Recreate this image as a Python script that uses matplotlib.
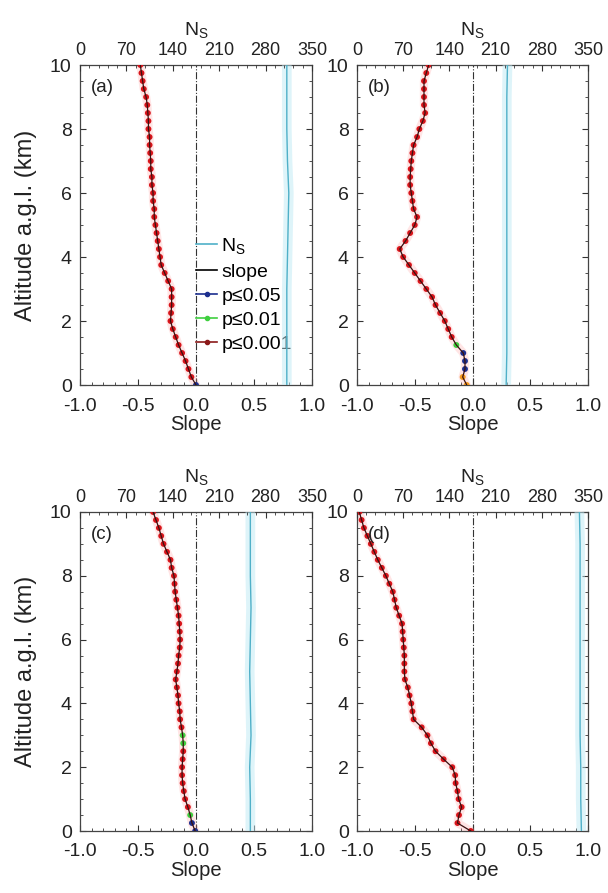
import numpy as np
import matplotlib
matplotlib.use("Agg")
import matplotlib.pyplot as plt
from matplotlib.lines import Line2D
from matplotlib.ticker import MultipleLocator

plt.rcParams['font.family'] = ['Liberation Sans', 'DejaVu Sans']

# ---------------- data ----------------
altitude = [0.0, 0.25, 0.5, 0.75, 1.0, 1.25, 1.5, 1.75, 2.0, 2.25, 2.5, 2.75, 3.0,
            3.25, 3.5, 3.75, 4.0, 4.25, 4.5, 4.75, 5.0, 5.25, 5.5, 5.75, 6.0, 6.25,
            6.5, 6.75, 7.0, 7.25, 7.5, 7.75, 8.0, 8.25, 8.5, 8.75, 9.0, 9.25, 9.5,
            9.75, 10.0]

slope_a = [0.0, -0.04, -0.065, -0.09, -0.12, -0.15, -0.175, -0.2, -0.22, -0.215, -0.21,
           -0.21, -0.21, -0.24, -0.27, -0.30, -0.31, -0.32, -0.33, -0.34, -0.35, -0.36,
           -0.36, -0.37, -0.37, -0.38, -0.38, -0.39, -0.39, -0.395, -0.40, -0.40, -0.41,
           -0.41, -0.415, -0.42, -0.43, -0.45, -0.46, -0.47, -0.48]
slope_b = [-0.05, -0.085, -0.065, -0.065, -0.08, -0.14, -0.18, -0.21, -0.24, -0.28, -0.32,
           -0.35, -0.40, -0.45, -0.50, -0.55, -0.60, -0.63, -0.58, -0.54, -0.50, -0.48,
           -0.51, -0.52, -0.53, -0.54, -0.54, -0.535, -0.53, -0.52, -0.51, -0.48, -0.46,
           -0.43, -0.41, -0.42, -0.42, -0.42, -0.42, -0.40, -0.38]
slope_c = [-0.007, -0.035, -0.05, -0.07, -0.094, -0.105, -0.115, -0.12, -0.12, -0.115,
           -0.11, -0.11, -0.115, -0.125, -0.137, -0.14, -0.15, -0.155, -0.165, -0.175,
           -0.165, -0.155, -0.15, -0.14, -0.137, -0.14, -0.145, -0.15, -0.16, -0.17,
           -0.18, -0.185, -0.19, -0.21, -0.22, -0.25, -0.28, -0.30, -0.32, -0.345, -0.37]
slope_d = [-0.015, -0.13, -0.117, -0.094, -0.12, -0.13, -0.146, -0.15, -0.175, -0.25,
           -0.32, -0.36, -0.39, -0.44, -0.51, -0.52, -0.53, -0.545, -0.56, -0.585, -0.59,
           -0.59, -0.59, -0.595, -0.60, -0.605, -0.61, -0.635, -0.66, -0.675, -0.69,
           -0.72, -0.75, -0.785, -0.82, -0.85, -0.88, -0.91, -0.94, -0.96, -0.98]

# significance class: 0 = n.s., 1 = p<=0.05, 2 = p<=0.01, 3 = p<=0.001
sig_a = [1] + [3] * 40
sig_b = [0, 0, 1, 1, 1, 2] + [3] * 35
sig_c = [1, 1, 2, 3, 3, 3, 3, 3, 3, 3, 3, 2, 2] + [3] * 28
sig_d = [3] * 41

ns_altitude = [0, 1, 2, 3, 4, 5, 6, 7, 8, 9, 10]
ns_a = [312, 312, 312, 312, 313, 314, 315, 313, 312, 312, 312]
ns_b = [226, 227, 227, 227, 227, 227, 227, 227, 227, 227, 228]
ns_c = [257, 257, 256, 258, 257, 256, 257, 258, 257, 257, 257]
ns_d = [340, 339, 339, 338, 338, 338, 338, 338, 338, 338, 337]

panel_labels = ['(a)', '(b)', '(c)', '(d)']
slope_ticks = [-1.0, -0.5, 0.0, 0.5, 1.0]
ns_ticks = [0, 70, 140, 210, 280, 350]

# ---------------- plotting ----------------
W, H = 608, 893
fig = plt.figure(figsize=(W / 100, H / 100), dpi=100)

sig_colors = {0: '#f39a1e', 1: '#1c2f8f', 2: '#3fcf3f', 3: '#d8141a'}
ns_color = '#4fb0c8'

positions = [
    (80 / W, 1 - 385 / H, 232 / W, 320 / H),
    (357 / W, 1 - 385 / H, 231 / W, 320 / H),
    (80 / W, 1 - 831 / H, 232 / W, 319 / H),
    (357 / W, 1 - 831 / H, 231 / W, 319 / H),
]
slopes = [slope_a, slope_b, slope_c, slope_d]
sigs = [sig_a, sig_b, sig_c, sig_d]
nss = [ns_a, ns_b, ns_c, ns_d]

fs = 14
txt = '#222222'
for i in range(4):
    ax = fig.add_axes(positions[i])
    ax.set_xlim(-1, 1)
    ax.set_ylim(0, 10)
    ax.axvline(0, color='#333333', lw=0.8, ls='-.')

    s = np.array(slopes[i])
    alt = np.array(altitude)
    # faint band under the slope profile
    ax.plot(s, alt, color='#ff9a9a', lw=6, alpha=0.25, solid_capstyle='round', zorder=2)
    cols = [sig_colors[c] for c in sigs[i]]
    ax.scatter(s, alt, c=cols, s=18, marker='o', edgecolors='none', zorder=3)
    ax.plot(s, alt, color='#3a1010', lw=0.9, zorder=4)

    ax.set_xticks(slope_ticks)
    ax.set_xticklabels(['-1.0', '-0.5', '0.0', '0.5', '1.0'])
    ax.set_yticks([0, 2, 4, 6, 8, 10])
    ax.xaxis.set_minor_locator(MultipleLocator(0.1))
    ax.yaxis.set_minor_locator(MultipleLocator(0.5))
    ax.tick_params(which='both', direction='in', right=True, labelsize=fs,
                   colors='#333333', labelcolor=txt)
    ax.tick_params(axis='x', which='major', length=4, pad=9)
    ax.tick_params(axis='y', which='major', length=4, pad=6)
    ax.tick_params(which='minor', length=2)
    ax.set_xlabel('Slope', fontsize=fs + 0.5, labelpad=0, color=txt)
    if i in (0, 2):
        ax.set_ylabel('Altitude a.g.l. (km)', fontsize=17, labelpad=9, color=txt)
    for sp in ax.spines.values():
        sp.set_color('#444444')
        sp.set_linewidth(0.9)

    ax.text(0.045, 0.955, panel_labels[i], transform=ax.transAxes, fontsize=13.5,
            va='top', ha='left', color=txt, zorder=5)

    ax2 = ax.twiny()
    ax2.set_xlim(0, 350)
    ax2.plot(nss[i], ns_altitude, color='#bfeaf5', lw=7, alpha=0.5, zorder=1)
    ax2.plot(nss[i], ns_altitude, color=ns_color, lw=1.0, zorder=2)
    ax2.set_xticks(ns_ticks)
    ax2.xaxis.set_minor_locator(MultipleLocator(14))
    ax2.tick_params(which='both', direction='in', labelsize=13,
                    colors='#333333', labelcolor=txt)
    ax2.tick_params(which='major', length=4, pad=4)
    ax2.tick_params(which='minor', length=2)
    ax2.set_xlabel('N$_\\mathregular{S}$', fontsize=14, labelpad=5, color=txt)
    for sp in ax2.spines.values():
        sp.set_visible(False)

    if i == 0:
        handles = [
            Line2D([], [], color=ns_color, lw=1.2),
            Line2D([], [], color='black', lw=1.2),
            Line2D([], [], color=sig_colors[1], lw=1.2, marker='o', ms=3),
            Line2D([], [], color=sig_colors[2], lw=1.2, marker='o', ms=3),
            Line2D([], [], color='#8b1a1a', lw=1.2, marker='o', ms=3),
        ]
        labels = ['N$_\\mathregular{S}$', 'slope', 'p≤0.05', 'p≤0.01', 'p≤0.001']
        ax.legend(handles, labels, loc='upper left', bbox_to_anchor=(0.5, 0.465),
                  frameon=False, fontsize=14, handlelength=1.1, handletextpad=0.2,
                  labelspacing=0.33, borderpad=0, borderaxespad=0)

fig.savefig('out.png', dpi=100)
